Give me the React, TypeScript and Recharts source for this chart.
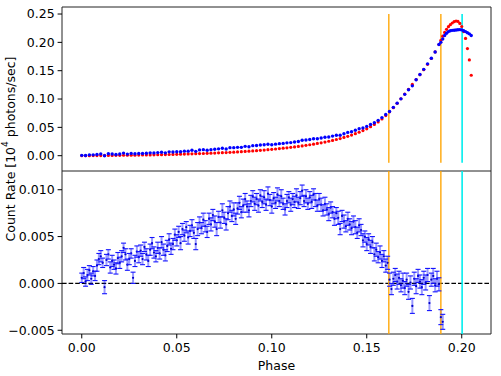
import React from 'react';
import {
  ComposedChart, Scatter, XAxis, YAxis, ReferenceLine, ReferenceArea, ErrorBar
} from 'recharts';

// phase bin centres
const grid = (start: number, n: number, step: number) =>
  Array.from({ length: n }, (_, i) => +(start + i * step).toFixed(4));

// top panel: model (red) and observed (blue) count rate, 10^4 photons/sec
const TOP_PHASE = [...grid(0, 95, 0.002), ...grid(0.189, 17, 0.001)];
const MODEL_RATE = [
  0.0000, 0.0001, 0.0001, 0.0002, 0.0003, 0.0003, 0.0004, 0.0005, 0.0005, 0.0006,
  0.0007, 0.0008, 0.0008, 0.0009, 0.0010, 0.0011, 0.0012, 0.0013, 0.0014, 0.0016,
  0.0017, 0.0018, 0.0020, 0.0021, 0.0023, 0.0025, 0.0027, 0.0029, 0.0031, 0.0033,
  0.0035, 0.0037, 0.0039, 0.0042, 0.0044, 0.0047, 0.0050, 0.0053, 0.0056, 0.0060,
  0.0063, 0.0067, 0.0071, 0.0075, 0.0080, 0.0084, 0.0089, 0.0094, 0.0100, 0.0106,
  0.0112, 0.0118, 0.0125, 0.0132, 0.0139, 0.0147, 0.0155, 0.0164, 0.0173, 0.0183,
  0.0193, 0.0204, 0.0216, 0.0228, 0.0241, 0.0255, 0.0270, 0.0286, 0.0303, 0.0322,
  0.0342, 0.0364, 0.0388, 0.0414, 0.0443, 0.0475, 0.0511, 0.0551, 0.0596, 0.0648,
  0.0708, 0.0775, 0.0848, 0.0925, 0.1005, 0.1088, 0.1172, 0.1257, 0.1343, 0.1430,
  0.1518, 0.1612, 0.1715, 0.1832, 0.1962,
  // tail
  0.2035, 0.2110, 0.2175, 0.2230, 0.2276, 0.2312, 0.2342, 0.2365, 0.2377, 0.2370,
  0.2335, 0.2280, 0.2190, 0.2070, 0.1890, 0.1690, 0.1420,
];
const OBS_RATE = [
  0.0006, 0.0003, 0.0015, 0.0015, 0.0022, 0.0032, 0.0000, 0.0036, 0.0029, 0.0022,
  0.0029, 0.0046, 0.0028, 0.0041, 0.0034, 0.0039, 0.0038, 0.0044, 0.0050, 0.0049,
  0.0055, 0.0062, 0.0050, 0.0068, 0.0065, 0.0071, 0.0070, 0.0080, 0.0080, 0.0095,
  0.0077, 0.0102, 0.0107, 0.0097, 0.0107, 0.0113, 0.0121, 0.0131, 0.0119, 0.0142,
  0.0142, 0.0147, 0.0147, 0.0165, 0.0158, 0.0177, 0.0179, 0.0188, 0.0192, 0.0202,
  0.0194, 0.0204, 0.0213, 0.0217, 0.0227, 0.0231, 0.0242, 0.0250, 0.0272, 0.0276,
  0.0285, 0.0299, 0.0299, 0.0312, 0.0326, 0.0329, 0.0346, 0.0361, 0.0361, 0.0388,
  0.0411, 0.0423, 0.0448, 0.0476, 0.0489, 0.0517, 0.0550, 0.0582, 0.0624, 0.0672,
  0.0727, 0.0779, 0.0853, 0.0927, 0.1003, 0.1083, 0.1163, 0.1233, 0.1340, 0.1432,
  0.1524, 0.1621, 0.1719, 0.1830, 0.1961,
  // tail
  0.2000, 0.2060, 0.2120, 0.2160, 0.2190, 0.2205, 0.2212, 0.2215, 0.2218, 0.2222,
  0.2225, 0.2220, 0.2205, 0.2190, 0.2170, 0.2150, 0.2120,
];

// bottom panel: residuals (obs - model) with 1-sigma errors
const RES_PHASE = grid(0, 191, 0.001);
const RESIDUAL = [
  0.0006, 0.0011, 0.0002, 0.0009, 0.0014, 0.0005, 0.0013, 0.0008, 0.0019, 0.0026,
  0.0029, 0.0022, -0.0004, 0.0025, 0.0031, 0.0017, 0.0024, 0.0020, 0.0016, 0.0027,
  0.0022, 0.0029, 0.0038, 0.0031, 0.0020, 0.0026, 0.0032, 0.0006, 0.0024, 0.0034,
  0.0028, 0.0035, 0.0026, 0.0039, 0.0031, 0.0024, 0.0036, 0.0043, 0.0033, 0.0029,
  0.0038, 0.0032, 0.0044, 0.0036, 0.0030, 0.0040, 0.0047, 0.0037, 0.0042, 0.0052,
  0.0046, 0.0055, 0.0043, 0.0058, 0.0051, 0.0060, 0.0049, 0.0056, 0.0062, 0.0054,
  0.0042, 0.0058, 0.0065, 0.0059, 0.0068, 0.0061, 0.0055, 0.0069, 0.0063, 0.0073,
  0.0066, 0.0058, 0.0071, 0.0065, 0.0078, 0.0070, 0.0063, 0.0075, 0.0082, 0.0072,
  0.0079, 0.0069, 0.0080, 0.0086, 0.0076, 0.0083, 0.0090, 0.0082, 0.0078, 0.0088,
  0.0093, 0.0085, 0.0090, 0.0083, 0.0094, 0.0087, 0.0092, 0.0084, 0.0096, 0.0089,
  0.0082, 0.0091, 0.0086, 0.0095, 0.0088, 0.0093, 0.0085, 0.0079, 0.0088, 0.0092,
  0.0084, 0.0090, 0.0087, 0.0094, 0.0086, 0.0091, 0.0099, 0.0088, 0.0093, 0.0085,
  0.0092, 0.0087, 0.0095, 0.0089, 0.0083, 0.0090, 0.0084, 0.0078, 0.0085, 0.0079,
  0.0074, 0.0081, 0.0076, 0.0069, 0.0075, 0.0070, 0.0058, 0.0072, 0.0066, 0.0061,
  0.0069, 0.0063, 0.0059, 0.0066, 0.0060, 0.0054, 0.0062, 0.0057, 0.0046, 0.0050,
  0.0042, 0.0047, 0.0039, 0.0044, 0.0031, 0.0036, 0.0028, 0.0033, 0.0024, 0.0029,
  0.0019, 0.0022, 0.0004, -0.0006, 0.0005, 0.0009, 0.0002, 0.0006, -0.0002, 0.0003,
  -0.0005, 0.0004, -0.0009, 0.0001, -0.0024, 0.0005, -0.0003, 0.0008, 0.0002, -0.0004,
  0.0006, 0.0001, 0.0009, -0.0021, 0.0004, 0.0008, -0.0002, 0.0005, -0.0001, -0.0036,
  -0.0041,
];
const RES_ERR = [
  0.0005, 0.0006, 0.0005, 0.0006, 0.0005, 0.0006, 0.0005, 0.0005, 0.0006, 0.0006,
  0.0006, 0.0005, 0.0007, 0.0006, 0.0005, 0.0006, 0.0006, 0.0005, 0.0006, 0.0006,
  0.0006, 0.0006, 0.0005, 0.0006, 0.0006, 0.0006, 0.0005, 0.0006, 0.0006, 0.0006,
  0.0006, 0.0006, 0.0006, 0.0005, 0.0006, 0.0006, 0.0006, 0.0006, 0.0006, 0.0006,
  0.0006, 0.0006, 0.0006, 0.0006, 0.0006, 0.0006, 0.0006, 0.0006, 0.0006, 0.0006,
  0.0006, 0.0006, 0.0007, 0.0006, 0.0006, 0.0006, 0.0007, 0.0006, 0.0006, 0.0006,
  0.0006, 0.0007, 0.0006, 0.0006, 0.0007, 0.0006, 0.0006, 0.0006, 0.0007, 0.0006,
  0.0006, 0.0007, 0.0006, 0.0006, 0.0007, 0.0006, 0.0006, 0.0007, 0.0006, 0.0006,
  0.0007, 0.0006, 0.0006, 0.0007, 0.0006, 0.0007, 0.0006, 0.0006, 0.0007, 0.0006,
  0.0006, 0.0007, 0.0006, 0.0007, 0.0006, 0.0006, 0.0007, 0.0006, 0.0007, 0.0006,
  0.0007, 0.0006, 0.0006, 0.0007, 0.0006, 0.0007, 0.0006, 0.0006, 0.0007, 0.0006,
  0.0007, 0.0006, 0.0006, 0.0007, 0.0006, 0.0007, 0.0006, 0.0006, 0.0007, 0.0006,
  0.0006, 0.0007, 0.0006, 0.0007, 0.0006, 0.0006, 0.0007, 0.0006, 0.0007, 0.0006,
  0.0007, 0.0006, 0.0006, 0.0007, 0.0006, 0.0007, 0.0006, 0.0006, 0.0007, 0.0006,
  0.0007, 0.0006, 0.0007, 0.0006, 0.0007, 0.0006, 0.0007, 0.0006, 0.0007, 0.0006,
  0.0007, 0.0006, 0.0007, 0.0006, 0.0007, 0.0007, 0.0006, 0.0007, 0.0007, 0.0006,
  0.0007, 0.0007, 0.0007, 0.0006, 0.0007, 0.0007, 0.0008, 0.0007, 0.0007, 0.0008,
  0.0007, 0.0007, 0.0008, 0.0007, 0.0008, 0.0007, 0.0008, 0.0007, 0.0007, 0.0008,
  0.0007, 0.0008, 0.0007, 0.0008, 0.0007, 0.0008, 0.0007, 0.0008, 0.0007, 0.0008,
  0.0008,
];

const X_TICKS = [0, 0.05, 0.1, 0.15, 0.2];
const TOP_TICKS = [0, 0.05, 0.1, 0.15, 0.2, 0.25];
const BOT_TICKS = [-0.005, 0, 0.005, 0.01];
const ORANGE_PHASES = [0.1616, 0.189];
const CYAN_PHASES = [0.2002];

const X_DOMAIN: [number, number] = [-0.0104, 0.2154];
const TOP_DOMAIN: [number, number] = [-0.027, 0.2624];
const BOT_DOMAIN: [number, number] = [-0.0054, 0.012];
const VLINE_RANGE: [number, number] = [-0.0125, 0.25];

const FONT = 'DejaVu Sans';
const FS = 12.5;
const tickStyle = { fontSize: FS, fill: '#000', fontFamily: FONT };

const modelData = TOP_PHASE.map((x, i) => ({ x, y: MODEL_RATE[i] }));
const obsData = TOP_PHASE.map((x, i) => ({ x, y: OBS_RATE[i] }));
const resData = RES_PHASE.map((x, i) => ({ x, y: RESIDUAL[i], err: RES_ERR[i] }));
const capHi = resData.map(d => ({ x: d.x, y: d.y + d.err }));
const capLo = resData.map(d => ({ x: d.x, y: d.y - d.err }));

const dot = (color: string, r: number) => (p: any) =>
  <circle cx={p.cx} cy={p.cy} r={r} fill={color} />;
const cap = (p: any) =>
  <line x1={p.cx - 2.5} x2={p.cx + 2.5} y1={p.cy} y2={p.cy} stroke="#1414ff" strokeWidth={1.1} />;

const fmt2 = (v: number) => v.toFixed(2);
const fmt3 = (v: number) => (v < 0 ? '\u2212' : '') + Math.abs(v).toFixed(3);

const App: React.FC = () => {
  return (
    <div style={{ position: 'absolute', left: 0, top: 0, width: 501, height: 376, background: '#fff', fontFamily: FONT }}>
      {/* top panel */}
      <div style={{ position: 'absolute', left: 0, top: 0 }}>
        <ComposedChart width={501} height={171} margin={{ top: 7, right: 10, bottom: 0, left: 0 }}>
          <XAxis type="number" dataKey="x" domain={X_DOMAIN} allowDataOverflow hide />
          <YAxis
            type="number" dataKey="y" domain={TOP_DOMAIN} allowDataOverflow
            ticks={TOP_TICKS} interval={0} tickFormatter={fmt2}
            width={62} tickSize={4.4} tickMargin={3}
            tick={tickStyle} axisLine={false} tickLine={{ stroke: '#000' }}
          />
          <Scatter data={modelData} shape={dot('#ff0000', 1.6)} isAnimationActive={false} />
          <Scatter data={obsData} shape={dot('#0000ff', 1.7)} isAnimationActive={false} />
          {ORANGE_PHASES.map(v => (
            <ReferenceLine key={`o${v}`} segment={[{ x: v, y: VLINE_RANGE[0] }, { x: v, y: VLINE_RANGE[1] }]}
              stroke="#ffa500" strokeOpacity={0.85} strokeWidth={1.6} />
          ))}
          {CYAN_PHASES.map(v => (
            <ReferenceLine key={`c${v}`} segment={[{ x: v, y: VLINE_RANGE[0] }, { x: v, y: VLINE_RANGE[1] }]}
              stroke="#00eeee" strokeWidth={1.6} />
          ))}
          <ReferenceArea x1={X_DOMAIN[0]} x2={X_DOMAIN[1]} y1={TOP_DOMAIN[0]} y2={TOP_DOMAIN[1]}
            fill="none" stroke="#222" strokeWidth={1} ifOverflow="visible" />
        </ComposedChart>
      </div>

      {/* residual panel */}
      <div style={{ position: 'absolute', left: 0, top: 171 }}>
        <ComposedChart width={501} height={205} margin={{ top: 0, right: 10, bottom: 0, left: 0 }}>
          <XAxis
            type="number" dataKey="x" domain={X_DOMAIN} allowDataOverflow
            ticks={X_TICKS} interval={0} tickFormatter={fmt2}
            height={42} tickSize={4.4} tickMargin={4.5}
            tick={tickStyle} axisLine={false} tickLine={{ stroke: '#000' }}
          />
          <YAxis
            type="number" dataKey="y" domain={BOT_DOMAIN} allowDataOverflow
            ticks={BOT_TICKS} interval={0} tickFormatter={fmt3}
            width={62} tickSize={4.4} tickMargin={3}
            tick={tickStyle} axisLine={false} tickLine={{ stroke: '#000' }}
          />
          <ReferenceLine y={0} stroke="#000" strokeWidth={1.1} strokeDasharray="4.6 2" />
          <Scatter data={resData} shape={dot('#0000c8', 1.1)} isAnimationActive={false}>
            <ErrorBar dataKey="err" direction="y" width={0} stroke="#0000ff" strokeOpacity={0.4}
              strokeWidth={2} isAnimationActive={false} />
          </Scatter>
          <Scatter data={capHi} shape={cap} isAnimationActive={false} />
          <Scatter data={capLo} shape={cap} isAnimationActive={false} />
          {ORANGE_PHASES.map(v => (
            <ReferenceLine key={`ob${v}`} x={v} stroke="#ffa500" strokeOpacity={0.85} strokeWidth={1.6} />
          ))}
          {CYAN_PHASES.map(v => (
            <ReferenceLine key={`cb${v}`} x={v} stroke="#00eeee" strokeWidth={1.6} />
          ))}
          <ReferenceArea x1={X_DOMAIN[0]} x2={X_DOMAIN[1]} y1={BOT_DOMAIN[0]} y2={BOT_DOMAIN[1]}
            fill="none" stroke="#222" strokeWidth={1} ifOverflow="visible" />
        </ComposedChart>
      </div>

      {/* axis titles */}
      <svg width={501} height={376} style={{ position: 'absolute', left: 0, top: 0, pointerEvents: 'none' }}>
        <text transform="translate(10,149) rotate(-90)" textAnchor="middle" dominantBaseline="central"
          fontSize={FS} fontFamily={FONT} fill="#000">
          Count Rate [10<tspan dy={-5} fontSize={9}>4</tspan><tspan dy={5}> photons/sec]</tspan>
        </text>
        <text x={276.5} y={369.5} textAnchor="middle" fontSize={FS} fontFamily={FONT} fill="#000">Phase</text>
      </svg>
    </div>
  );
};

export default App;
